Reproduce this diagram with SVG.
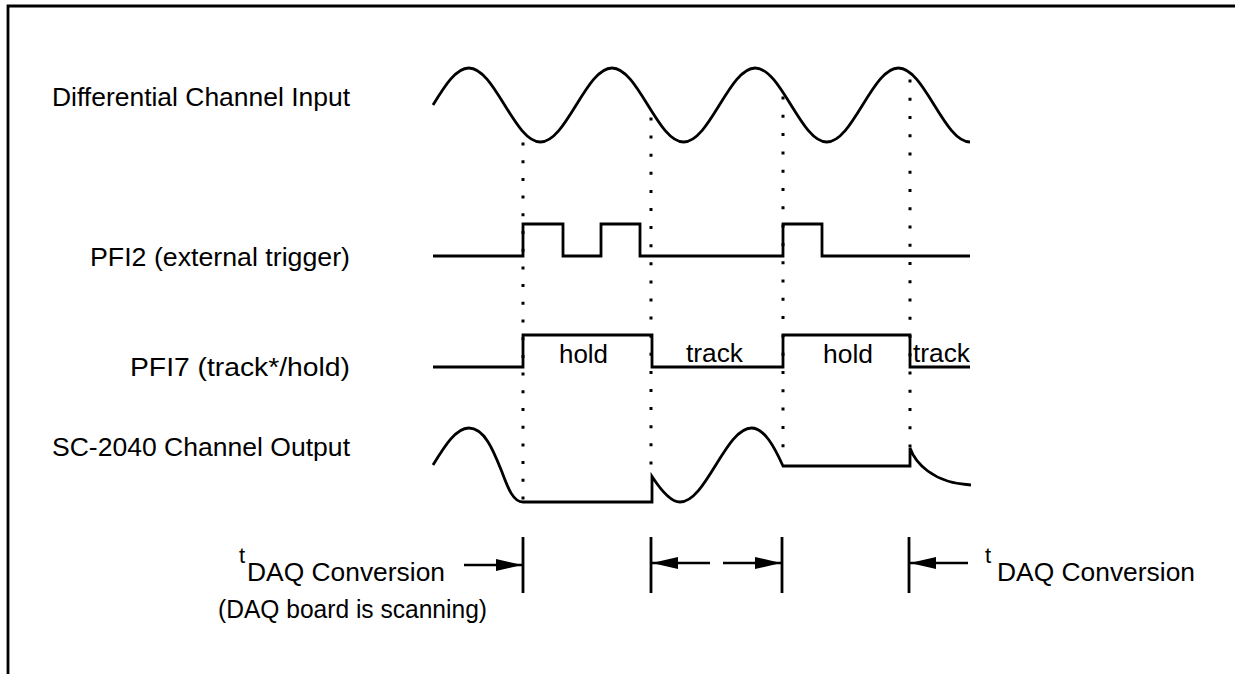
<svg xmlns="http://www.w3.org/2000/svg" width="1235" height="674" viewBox="0 0 1235 674">
<defs>
<style>
.w{fill:none;stroke:#000;stroke-width:2.8;stroke-linejoin:miter;stroke-linecap:butt}
.dot{fill:none;stroke:#000;stroke-width:3}
.bar{stroke:#000;stroke-width:2.8}
.ar{stroke:#000;stroke-width:2.5}
.t{font-family:"Liberation Sans",Arial,sans-serif;font-size:26px;fill:#000}
.ts{font-family:"Liberation Sans",Arial,sans-serif;font-size:22px;fill:#000}
</style>
<marker id="ah" viewBox="0 0 26 12" refX="26" refY="6" markerWidth="26" markerHeight="12" markerUnits="userSpaceOnUse" orient="auto">
<path d="M0,0 L26,6 L0,12 Z" fill="#000"/>
</marker>
</defs>
<rect width="1235" height="674" fill="#fff"/>
<path d="M8,674 V6 H1235" fill="none" stroke="#000" stroke-width="2.8"/>

<g id="labels">
<text class="t" x="52" y="106" textLength="298" lengthAdjust="spacingAndGlyphs">Differential Channel Input</text>
<text class="t" x="90" y="266" textLength="260" lengthAdjust="spacingAndGlyphs">PFI2 (external trigger)</text>
<text class="t" x="130" y="376" textLength="220" lengthAdjust="spacingAndGlyphs">PFI7 (track*/hold)</text>
<text class="t" x="52" y="456" textLength="298" lengthAdjust="spacingAndGlyphs">SC-2040 Channel Output</text>
</g>

<g id="connectors">
<line class="dot" x1="523" y1="142.5" x2="523" y2="500" stroke-dasharray="3 14.7"/>
<line class="dot" x1="651" y1="117.5" x2="651" y2="465" stroke-dasharray="3 15.1"/>
<line class="dot" x1="783" y1="96.5" x2="783" y2="448" stroke-dasharray="3 15.3"/>
<line class="dot" x1="910" y1="79.5" x2="910" y2="448" stroke-dasharray="3 15.25"/>
</g>

<g id="input-wave">
<path class="w" d="M433,105 c11.67,-18.96 22.84,-37 35.8,-37 c12.96,0 24.13,18.04 35.8,37 c11.67,18.960 22.84,37 35.8,37 c12.96,0 24.13,-18.04 35.8,-37 c11.67,-18.96 22.84,-37 35.8,-37 c12.96,0 24.13,18.04 35.8,37 c11.67,18.96 22.84,37 35.8,37 c12.96,0 24.13,-18.04 35.8,-37 c11.67,-18.96 22.84,-37 35.8,-37 c12.96,0 24.13,18.04 35.8,37 c11.67,18.96 22.84,37 35.8,37 c12.96,0 24.13,-18.04 35.8,-37 c11.67,-18.96 22.84,-37 35.8,-37 c12.96,0 24.13,18.04 35.8,37 c11.67,18.96 22.84,37 35.8,37"/>
</g>

<g id="pfi2-wave">
<path class="w" d="M433,256 H523 V224 H563 V256 H601 V224 H640 V256 H783 V224 H822 V256 H970"/>
</g>

<g id="pfi7-wave">
<path class="w" d="M433,367 H523 V335 H652 V367 H783 V335 H910 V367 H970"/>
<text class="t" x="559" y="363" textLength="49" lengthAdjust="spacingAndGlyphs">hold</text>
<text class="t" x="686" y="362" textLength="57" lengthAdjust="spacingAndGlyphs">track</text>
<text class="t" x="823" y="363" textLength="50" lengthAdjust="spacingAndGlyphs">hold</text>
<text class="t" x="913" y="362" textLength="57" lengthAdjust="spacingAndGlyphs">track</text>
</g>

<g id="output-wave">
<path class="w" d="M433,465 c11.67,-18.96 22.84,-37 35.8,-37 C485,428 494,452 502,472 C508,488 513,502 523,502 L652,502 V476.4 C661.3,490.7 670.7,502 680,502 c12.96,0 24.13,-18.04 35.8,-37 c11.67,-18.96 22.84,-37 35.8,-37 C764,428 774,446 783,466 H910 V448 C915,462 932,483 971,485"/>
</g>

<g id="timing">
<line class="bar" x1="523" y1="537" x2="523" y2="593"/>
<line class="bar" x1="651" y1="537" x2="651" y2="593"/>
<line class="bar" x1="782" y1="537" x2="782" y2="593"/>
<line class="bar" x1="909" y1="537" x2="909" y2="593"/>
<line class="ar" x1="464" y1="565" x2="522" y2="565" marker-end="url(#ah)"/>
<line class="ar" x1="710" y1="563" x2="652" y2="563" marker-end="url(#ah)"/>
<line class="ar" x1="723" y1="563" x2="781" y2="563" marker-end="url(#ah)"/>
<line class="ar" x1="968" y1="563" x2="910" y2="563" marker-end="url(#ah)"/>
<text class="ts" x="239" y="563">t</text>
<text class="t" x="247" y="581" textLength="198" lengthAdjust="spacingAndGlyphs">DAQ Conversion</text>
<text class="t" x="218" y="618" textLength="269" lengthAdjust="spacingAndGlyphs">(DAQ board is scanning)</text>
<text class="ts" x="985" y="563">t</text>
<text class="t" x="997" y="581" textLength="198" lengthAdjust="spacingAndGlyphs">DAQ Conversion</text>
</g>
</svg>
